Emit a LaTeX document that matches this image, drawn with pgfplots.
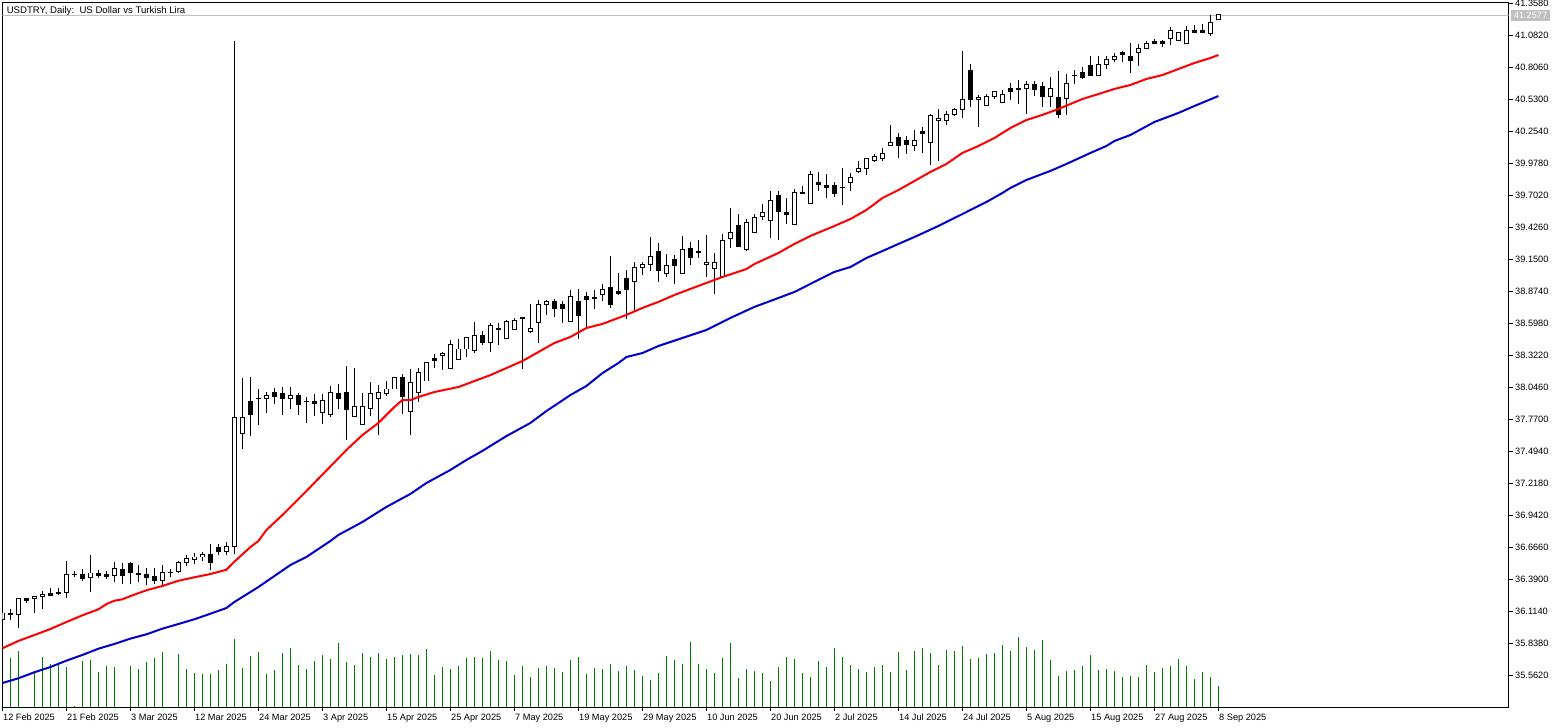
\documentclass[border=0pt]{standalone}
\usepackage{pgfplots}
\usepackage{pgfplotstable}
\usepackage{fontspec}
\setmainfont{Liberation Sans}
\pgfplotsset{compat=1.18}
\definecolor{vol}{HTML}{008000}
\definecolor{maA}{HTML}{FF0000}
\definecolor{maB}{HTML}{0000CD}
\definecolor{pline}{HTML}{C0C0C0}
\pgfplotstableread{
i o h l c
0 36.049 36.101 36.049 36.101
1 36.097 36.135 36.040 36.088
2 36.084 36.230 35.971 36.230
3 36.230 36.230 36.187 36.213
4 36.230 36.247 36.101 36.247
5 36.247 36.290 36.135 36.264
6 36.269 36.316 36.256 36.256
7 36.282 36.316 36.256 36.269
8 36.282 36.549 36.230 36.437
9 36.437 36.463 36.411 36.437
10 36.437 36.480 36.377 36.402
11 36.411 36.601 36.282 36.446
12 36.446 36.471 36.402 36.428
13 36.437 36.463 36.394 36.420
14 36.428 36.540 36.368 36.489
15 36.480 36.532 36.351 36.428
16 36.532 36.540 36.351 36.446
17 36.446 36.515 36.368 36.437
18 36.437 36.489 36.342 36.411
19 36.420 36.489 36.351 36.377
20 36.385 36.515 36.342 36.454
21 36.454 36.480 36.411 36.454
22 36.463 36.549 36.446 36.540
23 36.540 36.601 36.506 36.575
24 36.566 36.618 36.523 36.584
25 36.584 36.627 36.549 36.609
26 36.609 36.696 36.471 36.540
27 36.670 36.696 36.601 36.635
28 36.635 36.713 36.601 36.678
29 36.678 41.034 36.609 37.791
30 37.645 38.127 37.515 37.791
31 37.921 38.136 37.627 37.817
32 37.947 38.033 37.722 37.947
33 37.955 38.007 37.826 37.981
34 38.007 38.042 37.903 37.964
35 37.990 38.050 37.809 37.947
36 37.947 38.050 37.860 37.973
37 37.973 37.999 37.809 37.903
38 37.921 37.964 37.740 37.921
39 37.921 37.990 37.800 37.912
40 37.834 37.990 37.731 37.938
41 37.817 38.059 37.791 37.999
42 37.990 38.076 37.860 37.947
43 37.999 38.231 37.593 37.860
44 37.800 38.214 37.800 37.886
45 37.731 37.999 37.731 37.878
46 37.869 38.093 37.800 37.990
47 37.955 38.068 37.636 37.999
48 37.990 38.102 37.973 38.033
49 38.033 38.136 38.033 38.136
50 38.136 38.162 37.817 37.964
51 37.843 38.205 37.636 38.093
52 38.007 38.214 37.921 38.179
53 38.102 38.265 38.102 38.265
54 38.300 38.335 38.214 38.283
55 38.326 38.352 38.197 38.343
56 38.214 38.456 38.214 38.413
57 38.291 38.465 38.291 38.378
58 38.378 38.482 38.309 38.473
59 38.369 38.611 38.343 38.491
60 38.491 38.534 38.413 38.430
61 38.430 38.603 38.352 38.577
62 38.559 38.603 38.413 38.542
63 38.465 38.629 38.465 38.611
64 38.542 38.646 38.542 38.620
65 38.654 38.654 38.205 38.637
66 38.525 38.766 38.516 38.551
67 38.603 38.801 38.430 38.758
68 38.758 38.801 38.672 38.784
69 38.792 38.810 38.654 38.723
70 38.758 38.792 38.603 38.723
71 38.611 38.887 38.611 38.835
72 38.784 38.896 38.465 38.663
73 38.827 38.870 38.559 38.801
74 38.818 38.887 38.723 38.810
75 38.844 38.939 38.792 38.887
76 38.905 39.180 38.732 38.766
77 38.870 39.033 38.844 38.853
78 38.990 39.059 38.637 38.887
79 38.956 39.128 38.706 39.085
80 39.077 39.128 39.016 39.103
81 39.111 39.344 39.051 39.180
82 39.223 39.292 38.956 39.051
83 39.025 39.197 38.999 39.094
84 39.154 39.189 38.939 39.094
85 39.033 39.352 39.033 39.240
86 39.249 39.301 39.103 39.163
87 39.223 39.318 39.163 39.206
88 39.103 39.361 38.999 39.128
89 39.068 39.206 38.853 39.128
90 39.007 39.370 39.007 39.318
91 39.327 39.594 39.249 39.387
92 39.439 39.542 39.266 39.266
93 39.240 39.499 39.223 39.473
94 39.387 39.542 39.387 39.508
95 39.525 39.628 39.491 39.551
96 39.482 39.741 39.335 39.663
97 39.706 39.741 39.318 39.560
98 39.551 39.680 39.456 39.534
99 39.456 39.758 39.456 39.732
100 39.732 39.784 39.723 39.723
101 39.637 39.913 39.637 39.879
102 39.810 39.905 39.741 39.793
103 39.784 39.888 39.680 39.767
104 39.784 39.818 39.689 39.715
105 39.775 39.939 39.620 39.767
106 39.818 39.896 39.741 39.853
107 39.913 39.999 39.896 39.939
108 39.939 40.025 39.879 40.017
109 40.008 40.060 39.991 40.034
110 40.017 40.112 39.999 40.060
111 40.129 40.310 40.129 40.163
112 40.198 40.241 40.025 40.129
113 40.172 40.215 40.060 40.146
114 40.129 40.267 40.086 40.172
115 40.250 40.293 40.069 40.233
116 40.163 40.405 39.965 40.388
117 40.345 40.448 39.999 40.362
118 40.345 40.431 40.310 40.397
119 40.397 40.457 40.388 40.440
120 40.440 40.948 40.371 40.526
121 40.776 40.836 40.466 40.526
122 40.526 40.569 40.293 40.543
123 40.474 40.578 40.474 40.552
124 40.552 40.595 40.535 40.595
125 40.500 40.612 40.500 40.569
126 40.621 40.672 40.526 40.603
127 40.621 40.698 40.491 40.612
128 40.621 40.690 40.405 40.655
129 40.655 40.690 40.560 40.612
130 40.646 40.681 40.466 40.552
131 40.560 40.724 40.466 40.629
132 40.543 40.776 40.371 40.397
133 40.535 40.750 40.397 40.672
134 40.733 40.785 40.664 40.733
135 40.767 40.810 40.707 40.716
136 40.819 40.905 40.733 40.733
137 40.741 40.905 40.741 40.836
138 40.836 40.905 40.793 40.871
139 40.871 40.931 40.853 40.905
140 40.931 40.948 40.853 40.914
141 40.905 41.017 40.759 40.862
142 40.931 41.009 40.819 40.974
143 40.974 41.034 40.966 41.017
144 41.026 41.052 41.017 41.017
145 41.026 41.043 40.983 41.009
146 41.052 41.155 41.000 41.121
147 41.043 41.112 41.043 41.112
148 41.009 41.164 41.009 41.121
149 41.121 41.172 41.112 41.112
150 41.121 41.181 41.103 41.112
151 41.095 41.259 41.078 41.198
152 41.216 41.267 41.216 41.259
}\candles
\pgfplotstableread{
i v
1 49
2 56
4 34
5 50
6 43
7 42
8 40
9 1
10 46
11 47
12 35
13 41
14 40
16 41
17 38
18 45
19 49
20 55
22 53
23 38
24 34
25 33
26 33
27 37
28 43
29 68
30 39
31 51
32 55
33 33
34 37
35 54
36 59
37 42
38 38
39 46
40 52
41 48
42 64
43 45
44 42
45 54
46 50
47 54
48 48
49 50
50 52
51 53
52 52
53 58
54 32
55 40
56 38
57 41
58 49
59 50
60 49
61 56
62 47
63 46
64 32
65 41
66 30
67 39
68 41
69 39
70 35
71 47
72 50
73 33
74 39
75 38
76 43
77 36
78 41
79 37
80 31
81 27
82 34
83 51
84 47
85 43
86 65
87 43
88 38
89 34
90 49
91 64
92 29
93 38
94 36
95 34
96 26
97 40
98 50
99 48
100 34
101 30
102 46
103 40
104 59
105 50
106 42
107 38
108 35
109 40
110 42
111 35
112 55
113 37
114 56
115 59
116 54
117 42
118 57
119 56
120 61
121 48
122 49
123 53
124 54
125 62
126 56
127 70
128 60
129 57
130 67
131 47
132 31
133 36
134 37
135 41
136 52
137 37
138 38
139 36
140 30
141 31
142 30
143 42
144 35
145 39
146 41
147 48
148 41
149 28
150 35
151 30
152 21
}\volumes
\begin{document}
\begin{tikzpicture}[x=1bp,y=1bp]
\useasboundingbox (-2.4bp,-20.6bp) rectangle (1558.6bp,707.4bp);
% volumes
\begin{axis}[at={(0bp,0bp)},anchor=south west,scale only axis,width=1506.1bp,height=705bp,
  xmin=0,xmax=188.26,ymin=0,ymax=705,hide axis]
\addplot[ycomb,vol,line width=1bp,mark=none] table[x=i,y=v] {\volumes};
\end{axis}
% prices
\begin{axis}[at={(0bp,0bp)},anchor=south west,scale only axis,width=1506.1bp,height=705bp,
  xmin=0,xmax=188.26,ymin=35.2868,ymax=41.3675,
  axis line style={black,line width=1bp},
  tick align=outside,major tick length=4bp,
  tick style={black,line width=1bp},
  xtick pos=lower,ytick pos=right,yticklabel pos=right,
  scaled y ticks=false,
  xtick={0,8,...,152},
  xticklabels={12 Feb 2025,21 Feb 2025,3 Mar 2025,12 Mar 2025,24 Mar 2025,3 Apr 2025,15 Apr 2025,25 Apr 2025,7 May 2025,19 May 2025,29 May 2025,10 Jun 2025,20 Jun 2025,2 Jul 2025,14 Jul 2025,24 Jul 2025,5 Aug 2025,15 Aug 2025,27 Aug 2025,8 Sep 2025},
  ytick={41.358,41.082,40.806,40.53,40.254,39.978,39.702,39.426,39.15,38.874,38.598,38.322,38.046,37.77,37.494,37.218,36.942,36.666,36.39,36.114,35.838,35.562},
  yticklabels={41.3580,41.0820,40.8060,40.5300,40.2540,39.9780,39.7020,39.4260,39.1500,38.8740,38.5980,38.3220,38.0460,37.7700,37.4940,37.2180,36.9420,36.6660,36.3900,36.1140,35.8380,35.5620},
  xticklabel style={anchor=north west,inner sep=0pt,font=\fontsize{9.2bp}{10bp}\selectfont,xshift=0.6bp,yshift=-2.2bp},
  yticklabel style={anchor=west,inner sep=0pt,font=\fontsize{9.2bp}{10bp}\selectfont,xshift=2.5bp},
]
\addplot[pline,line width=1bp,mark=none] coordinates {(0,41.2577) (188.26,41.2577)};
% wicks
\addplot[draw=none,no markers,error bars/.cd,y dir=plus,y explicit,error mark=none,
  error bar style={draw=black,line width=1bp}]
  table[x=i,y=l,y error plus expr={\thisrow{h}-\thisrow{l}}] {\candles};
% bodies
\addplot[draw=none,no markers,error bars/.cd,y dir=plus,y explicit,error mark=none,
  error bar style={draw=black,line width=5bp}]
  table[x=i,y expr={min(\thisrow{o},\thisrow{c})-0.0043},y error plus expr={abs(\thisrow{c}-\thisrow{o})+0.0086}] {\candles};
\addplot[draw=none,no markers,error bars/.cd,y dir=plus,y explicit,error mark=none,
  error bar style={draw=white,line width=3bp}]
  table[x=i,y expr={min(\thisrow{o},\thisrow{c})+0.0043},y error plus expr={max(0,(\thisrow{c}>\thisrow{o})*(\thisrow{c}-\thisrow{o}-0.0086))}] {\candles};
% moving averages
\addplot[maA,line width=2bp,mark=none] coordinates {
(0,35.797)(2,35.860)(4,35.911)(6,35.963)(8,36.023)(10,36.081)(12,36.133)(13,36.178)(14,36.207)(15,36.219)(16,36.247)(18,36.297)(20,36.334)(22,36.379)(24,36.409)(26,36.437)(28,36.474)(29,36.544)(31,36.670)(32,36.722)(33,36.817)(35,36.946)(38,37.153)(43,37.507)(45,37.636)(47,37.740)(49,37.878)(50,37.938)(51,37.938)(52,37.964)(54,38.007)(57,38.050)(61,38.153)(65,38.274)(67,38.352)(69,38.430)(71,38.482)(73,38.559)(75,38.594)(77,38.646)(78,38.672)(80,38.732)(82,38.784)(84,38.844)(85,38.870)(88,38.948)(90,38.999)(93,39.068)(94,39.111)(97,39.206)(99,39.284)(101,39.353)(104,39.439)(106,39.499)(108,39.577)(110,39.680)(112,39.749)(114,39.827)(116,39.905)(118,39.974)(120,40.069)(122,40.129)(124,40.198)(126,40.284)(128,40.353)(130,40.397)(132,40.448)(135,40.534)(137,40.577)(139,40.621)(141,40.655)(143,40.707)(145,40.741)(147,40.793)(149,40.845)(151,40.888)(152,40.914)};
\addplot[maB,line width=2bp,mark=none] coordinates {
(0,35.497)(2,35.538)(4,35.590)(6,35.635)(8,35.690)(10,35.739)(12,35.793)(14,35.834)(16,35.880)(18,35.917)(20,35.966)(22,36.006)(24,36.047)(26,36.095)(28,36.144)(29,36.196)(31,36.282)(32,36.325)(34,36.420)(36,36.515)(38,36.584)(41,36.722)(42,36.774)(45,36.886)(48,37.016)(51,37.128)(53,37.222)(56,37.335)(58,37.421)(60,37.499)(63,37.627)(66,37.740)(68,37.843)(71,37.981)(73,38.059)(75,38.170)(77,38.257)(78,38.309)(80,38.343)(82,38.404)(85,38.473)(88,38.542)(91,38.646)(94,38.741)(97,38.818)(99,38.870)(102,38.974)(104,39.043)(106,39.085)(108,39.163)(110,39.223)(112,39.284)(114,39.344)(117,39.439)(120,39.542)(123,39.646)(125,39.724)(126,39.767)(128,39.836)(131,39.914)(133,39.974)(136,40.069)(138,40.129)(139,40.172)(141,40.224)(144,40.336)(147,40.414)(149,40.474)(152,40.560)};
\end{axis}
\node[anchor=west,inner sep=0pt,font=\fontsize{9.6bp}{10bp}\selectfont] at (4.2bp,696.6bp) {USDTRY, Daily:\ \ US Dollar vs Turkish Lira};
\node[fill=pline,text=white,inner sep=0pt,minimum width=39bp,minimum height=11bp,font=\fontsize{9.2bp}{10bp}\selectfont] at (1528.1bp,691.9bp) {41.2577};
\end{tikzpicture}
\end{document}
